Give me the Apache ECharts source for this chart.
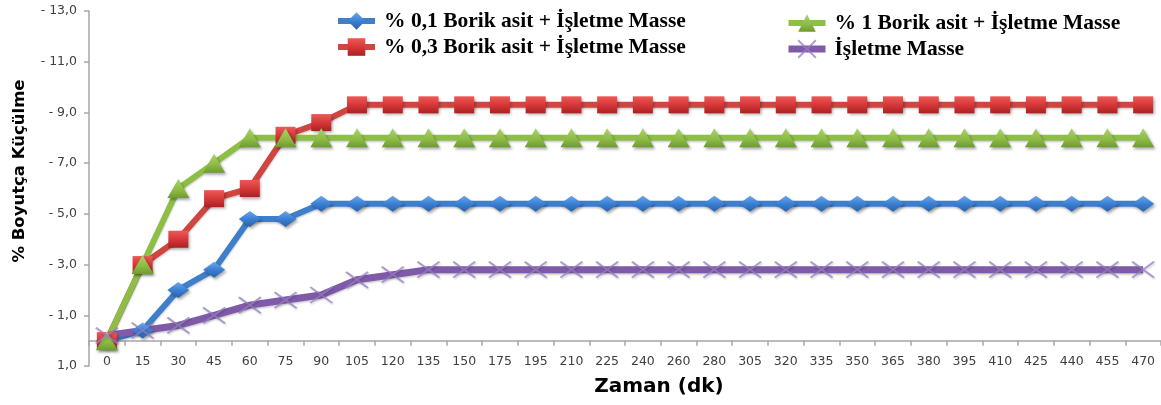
<!DOCTYPE html>
<html>
<head>
<meta charset="utf-8">
<script src="https://cdn.jsdelivr.net/npm/echarts@6/dist/echarts.min.js"></script>
<style>
  html, body { margin: 0; padding: 0; background: #ffffff; }
  #chart { width: 1161px; height: 405px; }
</style>
</head>
<body>
<div id="chart"></div>
<script>
// Time points (minutes)
const categories = ['0','15','30','45','60','75','90','105','120','135','150','175','195','210','225','240','260','280','305','320','335','350','365','380','395','410','425','440','455','470'];

const seriesNames = [
  '% 0,1 Borik asit + İşletme Masse',
  '% 0,3 Borik asit + İşletme Masse',
  '% 1 Borik asit + İşletme Masse',
  'İşletme Masse'
];

// Dimensional shrinkage (%) per time point
const borik01 = [0, 0.4, 2.0, 2.8, 4.8, 4.8, 5.4, 5.4, 5.4, 5.4, 5.4, 5.4, 5.4, 5.4, 5.4, 5.4, 5.4, 5.4, 5.4, 5.4, 5.4, 5.4, 5.4, 5.4, 5.4, 5.4, 5.4, 5.4, 5.4, 5.4];
const borik03 = [0, 3.0, 4.0, 5.6, 6.0, 8.1, 8.6, 9.3, 9.3, 9.3, 9.3, 9.3, 9.3, 9.3, 9.3, 9.3, 9.3, 9.3, 9.3, 9.3, 9.3, 9.3, 9.3, 9.3, 9.3, 9.3, 9.3, 9.3, 9.3, 9.3];
const borik1  = [0, 3.0, 6.0, 7.0, 8.0, 8.0, 8.0, 8.0, 8.0, 8.0, 8.0, 8.0, 8.0, 8.0, 8.0, 8.0, 8.0, 8.0, 8.0, 8.0, 8.0, 8.0, 8.0, 8.0, 8.0, 8.0, 8.0, 8.0, 8.0, 8.0];
const masse   = [0.2, 0.4, 0.6, 1.0, 1.4, 1.6, 1.8, 2.4, 2.6, 2.8, 2.8, 2.8, 2.8, 2.8, 2.8, 2.8, 2.8, 2.8, 2.8, 2.8, 2.8, 2.8, 2.8, 2.8, 2.8, 2.8, 2.8, 2.8, 2.8, 2.8];

// Y axis ticks and their printed labels
const yTicks = [-1, 1, 3, 5, 7, 9, 11, 13];
const yTickLabels = ['1,0', '- 1,0', '- 3,0', '- 5,0', '- 7,0', '- 9,0', '- 11,0', '- 13,0'];
const yMin = -1;
const yMax = 13;

const chart = echarts.init(document.getElementById('chart'));
const G = echarts.graphic.LinearGradient;
const axisGrey = '#a6a6a6';
const markerShadow = { shadowBlur: 3, shadowOffsetX: 1.5, shadowOffsetY: 2, shadowColor: 'rgba(0,0,0,0.35)' };
const lineShadow = { shadowBlur: 2, shadowOffsetY: 1.5, shadowColor: 'rgba(0,0,0,0.2)' };
const crossPath = 'path://M0,0L100,100M100,0L0,100';

const gridTop = 11;
const gridBottom = 39;
const chartHeight = 405;
// Lift the category axis from the bottom edge up to the zero line
const zeroOffset = -((chartHeight - gridTop - gridBottom) * (0 - yMin) / (yMax - yMin));

function lineSeries(name, data, symbol, size, lineColor, fill, extraItem) {
  return {
    name: name,
    type: 'line',
    data: data,
    symbol: symbol,
    symbolSize: size,
    showAllSymbol: true,
    lineStyle: Object.assign({ width: 6, color: lineColor }, lineShadow),
    itemStyle: Object.assign({ color: fill, opacity: 1 }, markerShadow, extraItem || {}),
    emphasis: { disabled: true },
    animation: false
  };
}

const legendText = { fontFamily: '"Liberation Serif", "Times New Roman", serif', fontWeight: 'bold', fontSize: 21.5, color: '#000', lineHeight: 22, padding: [0, 0, 0, 4] };
const legendCommon = { orient: 'vertical', padding: 0, itemWidth: 37, itemHeight: 22, itemGap: 4,
  textStyle: legendText, selectedMode: false, lineStyle: { width: 'inherit' } };

chart.setOption({
  backgroundColor: '#ffffff',
  animation: false,
  grid: { left: 89, right: 0, top: gridTop, bottom: gridBottom, containLabel: false },
  legend: [
    Object.assign({ data: [seriesNames[0], seriesNames[1]], left: 335, top: 10 }, legendCommon),
    Object.assign({ data: [seriesNames[2], seriesNames[3]], left: 785, top: 12 }, legendCommon)
  ],
  xAxis: {
    type: 'category',
    data: categories,
    boundaryGap: true,
    offset: zeroOffset,
    axisLine: { show: true, onZero: false, lineStyle: { color: axisGrey, width: 1.5 } },
    axisTick: { show: true, length: 5, lineStyle: { color: axisGrey, width: 1.5 } },
    axisLabel: { interval: 0, margin: 15, color: '#404040', fontFamily: '"DejaVu Sans", sans-serif', fontSize: 12.5 },
    splitLine: { show: false }
  },
  yAxis: {
    type: 'value',
    min: yMin,
    max: yMax,
    interval: 2,
    axisLine: { show: true, onZero: false, lineStyle: { color: axisGrey, width: 1.5 } },
    axisTick: { show: true, length: 5, customValues: yTicks, lineStyle: { color: axisGrey, width: 1.5 } },
    axisLabel: {
      customValues: yTicks,
      margin: 12,
      color: '#404040',
      fontFamily: '"DejaVu Sans", sans-serif',
      fontSize: 12.5,
      formatter: function (v) {
        const i = yTicks.indexOf(Math.round(v));
        return i >= 0 ? yTickLabels[i] : '';
      }
    },
    splitLine: { show: false }
  },
  graphic: [
    { type: 'text', x: 20, y: 171, rotation: Math.PI / 2,
      style: { text: '% Boyutça Küçülme', font: 'bold 16.5px "DejaVu Sans", sans-serif', fill: '#000', align: 'center', verticalAlign: 'middle' } },
    { type: 'text', x: 659, y: 387,
      style: { text: 'Zaman (dk)', font: 'bold 20px "DejaVu Sans", sans-serif', fill: '#000', align: 'center', verticalAlign: 'middle' } }
  ],
  series: [
    lineSeries(seriesNames[0], borik01, 'diamond', [22, 16], '#3f7ecb',
      new G(0, 0, 0, 1, [{ offset: 0, color: '#6aa8ea' }, { offset: 0.5, color: '#3a80d4' }, { offset: 1, color: '#2a62a8' }])),
    lineSeries(seriesNames[1], borik03, 'rect', [20, 17], '#cf4540',
      new G(0, 0, 0, 1, [{ offset: 0, color: '#ec5a55' }, { offset: 0.5, color: '#d8373a' }, { offset: 1, color: '#a8221f' }])),
    lineSeries(seriesNames[2], borik1, 'triangle', [22, 19], '#8dbf47',
      new G(0, 0, 0, 1, [{ offset: 0, color: '#a8d466' }, { offset: 0.6, color: '#8cba44' }, { offset: 1, color: '#6e9a30' }])),
    Object.assign(lineSeries(seriesNames[3], masse, crossPath, [22, 16], '#7f5aa8', 'rgba(150,125,195,0.7)',
      { borderColor: 'rgba(150,125,195,0.75)', borderWidth: 2, shadowBlur: 2, shadowOffsetX: 1, shadowOffsetY: 1.5, shadowColor: 'rgba(0,0,0,0.2)' }),
      { lineStyle: Object.assign({ width: 7, color: '#7f5aa8' }, lineShadow) })
  ]
});
</script>
</body>
</html>
